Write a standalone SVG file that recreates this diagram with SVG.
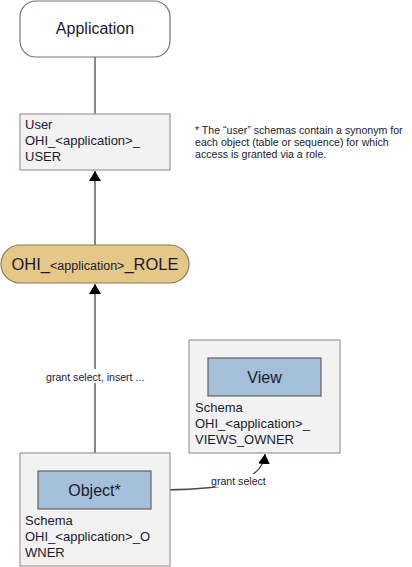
<svg xmlns="http://www.w3.org/2000/svg" width="412" height="567" viewBox="0 0 412 567">
<defs>
<style>
.t{font-family:"Liberation Sans",Arial,sans-serif;fill:#1a1a2e}
.big{font-size:16px}
.mid{font-size:13px}
.sm{font-size:10.6px}
.box{fill:#f2f2f2;stroke:#a39793;stroke-width:1.2}
.inner{fill:#a3bfd9;stroke:#6b5f5b;stroke-width:1.2}
.ln{fill:none;stroke:#4a4a4a;stroke-width:1.3}
</style>
<marker id="ah" viewBox="0 0 10 12" refX="10" refY="6" markerWidth="10" markerHeight="12" markerUnits="userSpaceOnUse" orient="auto">
<path d="M0,0 L10,6 L0,12 Z" fill="#000"/>
</marker>
</defs>
<rect width="412" height="567" fill="#fff"/>
<g id="connectors">
<line class="ln" x1="95" y1="57" x2="95" y2="114"/>
<line class="ln" x1="95" y1="245" x2="95" y2="171" marker-end="url(#ah)"/>
<line class="ln" x1="95" y1="471" x2="95" y2="284" marker-end="url(#ah)"/>
<path class="ln" d="M151,490 C215,490 262,486 265,454" marker-end="url(#ah)"/>
<rect x="45" y="369" width="101" height="14" fill="#fff"/>
<text class="t sm" x="46" y="381">grant select, insert ...</text>
<rect x="210" y="474" width="58" height="13" fill="#fff"/>
<text class="t sm" x="211" y="485">grant select</text>
</g>
<g id="application">
<rect x="20" y="1" width="150" height="56" rx="16" ry="16" fill="#fff" stroke="#7f716c" stroke-width="1.2"/>
<text class="t big" x="95" y="34" text-anchor="middle">Application</text>
</g>
<g id="user">
<rect class="box" x="20" y="114" width="150" height="56"/>
<text class="t mid" x="25" y="129">User</text>
<text class="t mid" x="25" y="145">OHI_&lt;application&gt;_</text>
<text class="t mid" x="25" y="161">USER</text>
</g>
<g id="note">
<text class="t sm" x="195" y="134">* The “user” schemas contain a synonym for</text>
<text class="t sm" x="195" y="146">each object (table or sequence) for which</text>
<text class="t sm" x="195" y="158">access is granted via a role.</text>
</g>
<g id="role">
<rect x="1" y="245" width="188" height="38" rx="19" ry="19" fill="#e5c887" stroke="#8c7b60" stroke-width="1.2"/>
<text class="t" x="95" y="270" text-anchor="middle" font-size="16.5"><tspan>OHI_</tspan><tspan font-size="12.5">&lt;application&gt;</tspan><tspan>_ROLE</tspan></text>
</g>
<g id="views-owner">
<rect class="box" x="189" y="340" width="151" height="113"/>
<rect class="inner" x="208" y="358" width="113" height="38"/>
<text class="t big" x="264.5" y="383" text-anchor="middle">View</text>
<text class="t mid" x="195" y="412">Schema</text>
<text class="t mid" x="195" y="428">OHI_&lt;application&gt;_</text>
<text class="t mid" x="195" y="444">VIEWS_OWNER</text>
</g>
<g id="owner">
<rect class="box" x="20" y="453" width="150" height="113"/>
<rect class="inner" x="38" y="471" width="113" height="38"/>
<text class="t big" x="94.5" y="496" text-anchor="middle">Object*</text>
<text class="t mid" x="25" y="525">Schema</text>
<text class="t mid" x="25" y="541">OHI_&lt;application&gt;_O</text>
<text class="t mid" x="25" y="557">WNER</text>
</g>
</svg>
